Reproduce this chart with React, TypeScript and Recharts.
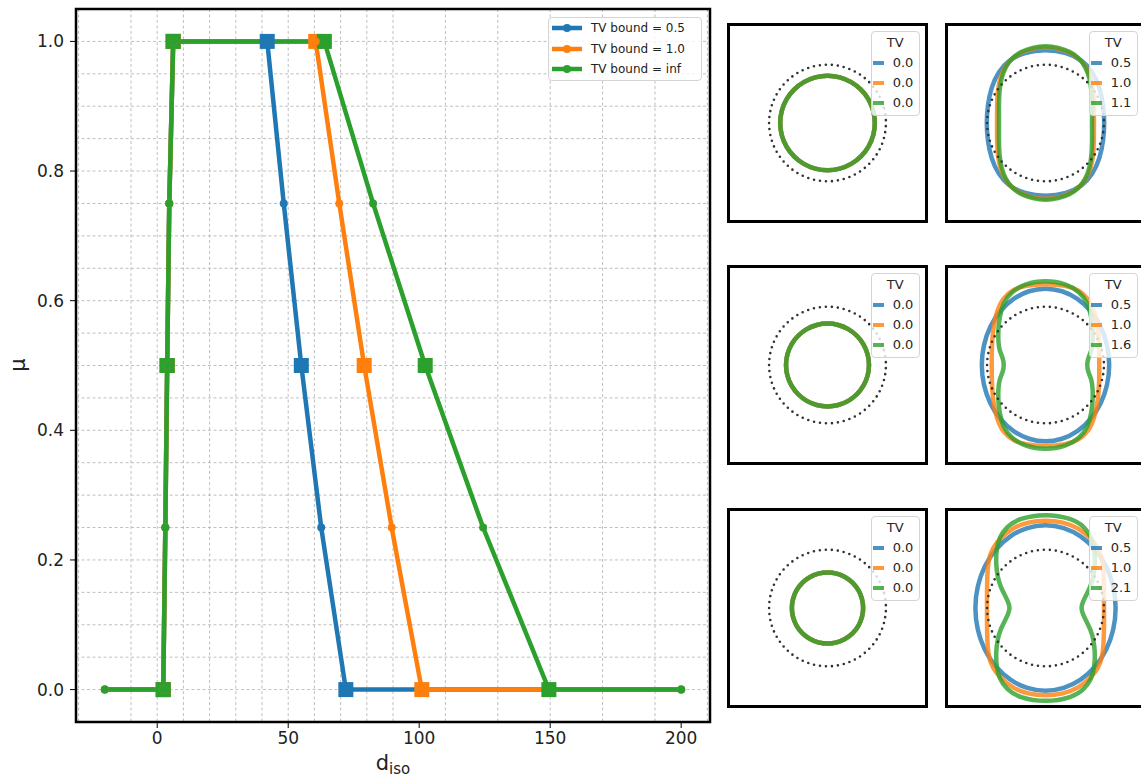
import React from "react";
import {
  ComposedChart,
  LineChart,
  Line,
  Scatter,
  XAxis,
  YAxis,
  CartesianGrid,
  Legend,
  ReferenceArea,
} from "recharts";

const FONT = "DejaVu Sans, Verdana, sans-serif";
const COLORS = ["#1f77b4", "#ff7f0e", "#2ca02c"];

// ---- main panel: mu vs d_iso ----
const muLevels = [0, 0, 0.25, 0.5, 0.75, 1, 1, 0.75, 0.5, 0.25, 0, 0];
const dTv05 = [-20, 2.3, 3.1, 3.8, 4.6, 6.1, 42, 48.3, 55, 62.6, 72, 200];
const dTv10 = [-20, 2.3, 3.1, 3.8, 4.6, 6.1, 60.5, 69.5, 79, 89.5, 101, 200];
const dTvInf = [-20, 2.3, 3.1, 3.8, 4.6, 6.1, 63.8, 82.4, 102.3, 124.4, 149.5, 200];
const knotIdx = [1, 3, 5, 6, 8, 10]; // points drawn with square markers
const seriesNames = ["TV bound = 0.5", "TV bound = 1.0", "TV bound = inf"];

const xTicks = [0, 50, 100, 150, 200];
const yTicks = [0, 0.2, 0.4, 0.6, 0.8, 1.0];
const xMinor = [-30, -20, -10, 0, 10, 20, 30, 40, 50, 60, 70, 80, 90, 100, 110, 120, 130, 140, 150, 160, 170, 180, 190, 200, 210];
const yMinor = [-0.05, 0, 0.05, 0.1, 0.15, 0.2, 0.25, 0.3, 0.35, 0.4, 0.45, 0.5, 0.55, 0.6, 0.65, 0.7, 0.75, 0.8, 0.85, 0.9, 0.95, 1.0, 1.05];

// ---- small panels: shapes (first quadrant, mirrored) ----
const circleAngles = [0, 15, 30, 45, 60, 75, 90];
const refRadius = 1;
const isoRadius = [0.81, 0.71, 0.61]; // left column, all TV values coincide
const leftTvLabels = ["0.0", "0.0", "0.0"];
const rowTvLabels = [
  ["0.5", "1.0", "1.1"],
  ["0.5", "1.0", "1.6"],
  ["0.5", "1.0", "2.1"],
];

type Pt = [number, number];
const r1Blue: Pt[] = [[1.0, 0], [0.98, 0.3], [0.92, 0.6], [0.8, 0.87], [0.62, 1.07], [0.36, 1.2], [0, 1.25]];
const r1Orange: Pt[] = [[0.82, 0], [0.82, 0.3], [0.81, 0.55], [0.77, 0.76], [0.69, 0.95], [0.57, 1.1], [0.41, 1.2], [0.21, 1.27], [0, 1.29]];
const r1Green: Pt[] = [[0.785, 0], [0.79, 0.3], [0.78, 0.55], [0.75, 0.75], [0.68, 0.95], [0.57, 1.1], [0.42, 1.21], [0.22, 1.28], [0, 1.31]];
const r2Blue: Pt[] = [[1.09, 0], [1.053, 0.339], [0.944, 0.655], [0.771, 0.926], [0.545, 1.134], [0.282, 1.265], [0, 1.31]];
const r2Orange: Pt[] = [[0.91, 0], [0.91, 0.3], [0.89, 0.6], [0.83, 0.9], [0.72, 1.14], [0.55, 1.28], [0.35, 1.35], [0, 1.38]];
const r2Green: Pt[] = [[0.7, 0], [0.72, 0.12], [0.78, 0.24], [0.8, 0.4], [0.8, 0.6], [0.78, 0.8], [0.72, 1.05], [0.58, 1.24], [0.35, 1.38], [0, 1.44]];
const r3Blue: Pt[] = [[1.2, 0], [1.159, 0.368], [1.039, 0.71], [0.849, 1.004], [0.6, 1.23], [0.311, 1.372], [0, 1.42]];
const r3Orange: Pt[] = [[0.99, 0], [0.99, 0.5], [0.97, 0.8], [0.9, 1.02], [0.75, 1.2], [0.55, 1.36], [0.3, 1.46], [0, 1.49]];
const r3Green: Pt[] = [[0.6, 0], [0.63, 0.1], [0.69, 0.22], [0.76, 0.36], [0.81, 0.52], [0.84, 0.75], [0.83, 1.0], [0.78, 1.2], [0.66, 1.38], [0.45, 1.52], [0, 1.6]];
const rightShapes = [
  [r1Blue, r1Orange, r1Green],
  [r2Blue, r2Orange, r2Green],
  [r3Blue, r3Orange, r3Green],
];

// layout
const rowTops = [23, 265, 508];
const colLefts = [727, 945];

const mainData = [dTv05, dTv10, dTvInf].map((ds) => muLevels.map((mu, i) => ({ d: ds[i], mu })));
const knotData = mainData.map((rows) => knotIdx.map((i) => rows[i]));

const circleQuadrant = (r: number): Pt[] =>
  circleAngles.map((a) => [r * Math.cos((a * Math.PI) / 180), r * Math.sin((a * Math.PI) / 180)]);

// mirror a first-quadrant outline into a closed loop
const ring = (q: Pt[]) => {
  const n = q.length;
  const out: { x: number; y: number }[] = [];
  for (let i = 0; i < n; i++) out.push({ x: q[i][0], y: q[i][1] });
  for (let i = n - 2; i >= 0; i--) out.push({ x: -q[i][0], y: q[i][1] });
  for (let i = 1; i < n; i++) out.push({ x: -q[i][0], y: -q[i][1] });
  for (let i = n - 2; i >= 1; i--) out.push({ x: q[i][0], y: -q[i][1] });
  return out;
};
const refRing = ring(circleQuadrant(refRadius));

const MainLegend = () => (
  <div
    style={{
      width: 154,
      height: 64,
      boxSizing: "border-box",
      background: "rgba(255,255,255,0.8)",
      border: "1px solid #d4d4d4",
      borderRadius: 4,
      fontFamily: FONT,
      fontSize: 12,
      color: "#222",
    }}
  >
    {seriesNames.map((name, i) => (
      <div key={name} style={{ display: "flex", alignItems: "center", height: 20.5, paddingLeft: 3 }}>
        <svg width={30} height={10} style={{ marginRight: 9 }}>
          <line x1={0} x2={30} y1={5} y2={5} stroke={COLORS[i]} strokeWidth={4.5} />
          <circle cx={15} cy={5} r={4} fill={COLORS[i]} />
        </svg>
        <span>{name}</span>
      </div>
    ))}
  </div>
);

const TvLegend = ({ labels }: { labels: string[] }) => (
  <div
    style={{
      width: 49,
      height: 85,
      boxSizing: "border-box",
      background: "rgba(255,255,255,0.8)",
      border: "1px solid #d4d4d4",
      borderRadius: 4,
      fontFamily: FONT,
      fontSize: 13,
      color: "#262626",
    }}
  >
    <div style={{ textAlign: "center", height: 21, lineHeight: "22px" }}>TV</div>
    {labels.map((l, i) => (
      <div key={i} style={{ display: "flex", alignItems: "center", height: 20 }}>
        <div style={{ width: 11, height: 4, marginLeft: 1, background: COLORS[i], opacity: 0.8 }} />
        <span style={{ marginLeft: 9 }}>{l}</span>
      </div>
    ))}
  </div>
);

const XLabel = (props: any) => {
  const vb = props.viewBox || {};
  const cx = vb.width ? vb.x + vb.width / 2 : 393;
  return (
    <text x={cx} y={770} textAnchor="middle" fontFamily={FONT} fontSize={21} fill="#222">
      d
      <tspan fontSize={15} dy={4}>
        iso
      </tspan>
    </text>
  );
};

const YLabel = () => (
  <text x={25} y={365} transform="rotate(-90 25 365)" textAnchor="middle" fontFamily={FONT} fontSize={21} fill="#222">
    μ
  </text>
);

const tickStyle = { fontSize: 17, fill: "#222", fontFamily: FONT };

const MainChart = () => (
  <ComposedChart width={720} height={779} margin={{ top: 9, right: 10, bottom: 17, left: 16 }}>
    <CartesianGrid
      horizontalValues={yMinor}
      verticalValues={xMinor}
      stroke="#b8b8b8"
      strokeDasharray="3 2.5"
      strokeWidth={0.9}
    />
    <XAxis
      xAxisId="minor"
      type="number"
      dataKey="d"
      domain={[-31, 211]}
      ticks={xMinor}
      tick={false}
      tickSize={3.5}
      axisLine={false}
      height={0}
      tickLine={{ stroke: "#000" }}
    />
    <XAxis
      type="number"
      dataKey="d"
      domain={[-31, 211]}
      ticks={xTicks}
      tickSize={6}
      tickMargin={4}
      axisLine={false}
      height={40}
      tick={tickStyle}
      tickLine={{ stroke: "#000" }}
      label={<XLabel />}
    />
    <YAxis
      yAxisId="minor"
      type="number"
      domain={[-0.05, 1.05]}
      ticks={yMinor}
      tick={false}
      tickSize={3.5}
      axisLine={false}
      width={0}
      tickLine={{ stroke: "#000" }}
    />
    <YAxis
      type="number"
      domain={[-0.05, 1.05]}
      ticks={yTicks}
      tickFormatter={(v: number) => v.toFixed(1)}
      tickSize={6}
      tickMargin={6}
      axisLine={false}
      width={60}
      tick={tickStyle}
      tickLine={{ stroke: "#000" }}
      label={<YLabel />}
    />
    {mainData.map((rows, i) => (
      <Line
        key={seriesNames[i]}
        data={rows}
        dataKey="mu"
        name={seriesNames[i]}
        type="linear"
        stroke={COLORS[i]}
        strokeWidth={4.5}
        dot={{ r: 4, fill: COLORS[i], stroke: COLORS[i], strokeWidth: 0 }}
        activeDot={false}
        isAnimationActive={false}
      />
    ))}
    {knotData.map((rows, i) => (
      <Scatter
        key={"k" + i}
        data={rows}
        dataKey="mu"
        fill={COLORS[i]}
        isAnimationActive={false}
        shape={(p: any) => <rect x={p.cx - 7.5} y={p.cy - 7.5} width={15} height={15} fill={COLORS[i]} />}
      />
    ))}
    <ReferenceArea
      x1={-31}
      x2={211}
      y1={-0.05}
      y2={1.05}
      fill="none"
      fillOpacity={0}
      stroke="#000"
      strokeWidth={2.5}
      ifOverflow="visible"
    />
    <Legend
      layout="vertical"
      align="center"
      verticalAlign="middle"
      wrapperStyle={{ left: 548, top: 17, width: 154, height: 64 }}
      content={() => <MainLegend />}
    />
  </ComposedChart>
);

const SmallPanel = ({ left, top, curves, labels }: { left: number; top: number; curves: Pt[][]; labels: string[] }) => (
  <div
    style={{
      position: "absolute",
      left,
      top,
      width: 195,
      height: 194,
      border: "3px solid #000",
      background: "#fff",
    }}
  >
    <LineChart width={195} height={194} margin={{ top: 0, right: 0, bottom: 0, left: 0 }}>
      <XAxis type="number" dataKey="x" domain={[-1.65, 1.65]} hide />
      <YAxis type="number" domain={[-1.645, 1.645]} hide />
      {curves.map((c, i) => (
        <Line
          key={i}
          data={ring(c)}
          dataKey="y"
          type="basisClosed"
          stroke={COLORS[i]}
          strokeOpacity={0.8}
          strokeWidth={4.5}
          dot={false}
          activeDot={false}
          isAnimationActive={false}
        />
      ))}
      <Line
        data={refRing}
        dataKey="y"
        type="basisClosed"
        stroke="#333"
        strokeWidth={2.6}
        strokeLinecap="round"
        strokeDasharray="0 6"
        dot={false}
        activeDot={false}
        isAnimationActive={false}
      />
      <Legend
        layout="vertical"
        align="center"
        verticalAlign="middle"
        wrapperStyle={{ left: 140.7, top: 4.7, width: 49, height: 85 }}
        content={() => <TvLegend labels={labels} />}
      />
    </LineChart>
  </div>
);

export default function App() {
  return (
    <div
      style={{
        position: "absolute",
        left: 0,
        top: 0,
        width: 1141,
        height: 779,
        overflow: "hidden",
        background: "#fff",
        fontFamily: FONT,
      }}
    >
      <div style={{ position: "absolute", left: 0, top: 0 }}>
        <MainChart />
      </div>
      {rowTops.map((top, r) => (
        <React.Fragment key={r}>
          <SmallPanel
            left={colLefts[0]}
            top={top}
            curves={[circleQuadrant(isoRadius[r]), circleQuadrant(isoRadius[r]), circleQuadrant(isoRadius[r])]}
            labels={leftTvLabels}
          />
          <SmallPanel left={colLefts[1]} top={top} curves={rightShapes[r]} labels={rowTvLabels[r]} />
        </React.Fragment>
      ))}
    </div>
  );
}
